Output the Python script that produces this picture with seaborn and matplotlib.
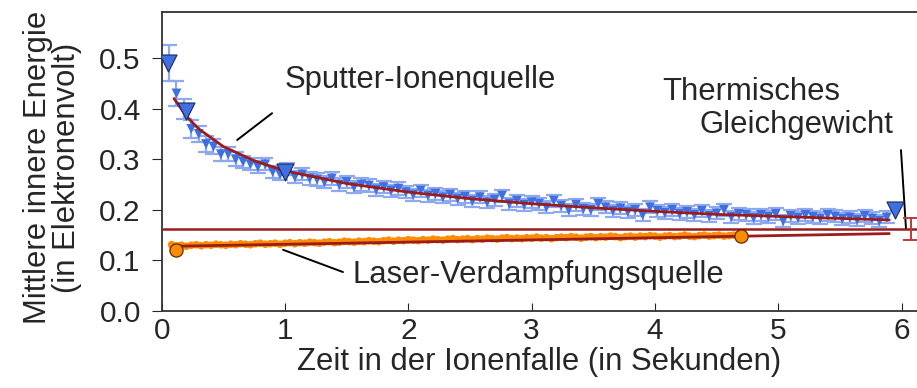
import numpy as np
import pandas as pd
import matplotlib
matplotlib.use('Agg')
import matplotlib.pyplot as plt
import seaborn as sns

# Datos: Sputter-Ionenquelle (blau)
sputter_x = [0.06, 0.12, 0.18, 0.24, 0.30, 0.36, 0.42, 0.48, 0.54, 0.60,
             0.66, 0.72, 0.78, 0.84, 0.90, 0.96, 1.02, 1.08, 1.14, 1.20,
             1.26, 1.32, 1.38, 1.44, 1.50, 1.56, 1.62, 1.68, 1.74, 1.80,
             1.86, 1.92, 1.98, 2.04, 2.10, 2.16, 2.22, 2.28, 2.34, 2.40,
             2.46, 2.52, 2.58, 2.64, 2.70, 2.76, 2.82, 2.88, 2.94, 3.00,
             3.06, 3.12, 3.18, 3.24, 3.30, 3.36, 3.42, 3.48, 3.54, 3.60,
             3.66, 3.72, 3.78, 3.84, 3.90, 3.96, 4.02, 4.08, 4.14, 4.20,
             4.26, 4.32, 4.38, 4.44, 4.50, 4.56, 4.62, 4.68, 4.74, 4.80,
             4.86, 4.92, 4.98, 5.04, 5.10, 5.16, 5.22, 5.28, 5.34, 5.40,
             5.46, 5.52, 5.58, 5.64, 5.70, 5.76, 5.82, 5.88]
sputter_y = [0.49, 0.43, 0.40, 0.36, 0.35, 0.33, 0.325, 0.31, 0.31, 0.30,
             0.295, 0.29, 0.285, 0.29, 0.275, 0.27, 0.28, 0.265, 0.27, 0.262,
             0.26, 0.255, 0.262, 0.25, 0.255, 0.245, 0.25, 0.248, 0.24, 0.245,
             0.238, 0.242, 0.235, 0.23, 0.238, 0.228, 0.232, 0.225, 0.23, 0.222,
             0.226, 0.218, 0.225, 0.215, 0.22, 0.228, 0.212, 0.218, 0.21, 0.215,
             0.212, 0.205, 0.218, 0.208, 0.20, 0.21, 0.202, 0.20, 0.212, 0.205,
             0.198, 0.203, 0.196, 0.20, 0.19, 0.205, 0.198, 0.194, 0.20, 0.192,
             0.196, 0.19, 0.198, 0.188, 0.193, 0.20, 0.186, 0.192, 0.19, 0.184,
             0.19, 0.186, 0.192, 0.178, 0.188, 0.184, 0.19, 0.186, 0.183, 0.19,
             0.187, 0.182, 0.185, 0.18, 0.188, 0.183, 0.178, 0.185]
sputter_err = [0.035, 0.025, 0.02, 0.018, 0.016, 0.015, 0.015, 0.014, 0.014, 0.014] + [0.012] * 88

# Hervorgehobene Punkte (große Dreiecke)
big_tri_x = [0.05, 0.2, 1.0, 5.95]
big_tri_y = [0.49, 0.395, 0.275, 0.2]

# Fit-Kurve Sputter
fit_s_x = [0.1, 0.2, 0.3, 0.5, 0.75, 1.0, 1.5, 2.0, 2.5, 3.0, 3.5, 4.0, 4.5, 5.0, 5.5, 5.9]
fit_s_y = [0.42, 0.385, 0.36, 0.325, 0.297, 0.277, 0.252, 0.235, 0.222, 0.212, 0.204, 0.197, 0.191, 0.187, 0.183, 0.18]

# Datos: Laser-Verdampfungsquelle (orange)
laser_x = [0.08, 0.12, 0.16, 0.20, 0.24, 0.28, 0.32, 0.36, 0.40, 0.44,
           0.48, 0.52, 0.56, 0.60, 0.64, 0.68, 0.72, 0.76, 0.80, 0.84,
           0.88, 0.92, 0.96, 1.00, 1.04, 1.08, 1.12, 1.16, 1.20, 1.24,
           1.28, 1.32, 1.36, 1.40, 1.44, 1.48, 1.52, 1.56, 1.60, 1.64,
           1.68, 1.72, 1.76, 1.80, 1.84, 1.88, 1.92, 1.96, 2.00, 2.04,
           2.08, 2.12, 2.16, 2.20, 2.24, 2.28, 2.32, 2.36, 2.40, 2.44,
           2.48, 2.52, 2.56, 2.60, 2.64, 2.68, 2.72, 2.76, 2.80, 2.84,
           2.88, 2.92, 2.96, 3.00, 3.04, 3.08, 3.12, 3.16, 3.20, 3.24,
           3.28, 3.32, 3.36, 3.40, 3.44, 3.48, 3.52, 3.56, 3.60, 3.64,
           3.68, 3.72, 3.76, 3.80, 3.84, 3.88, 3.92, 3.96, 4.00, 4.04,
           4.08, 4.12, 4.16, 4.20, 4.24, 4.28, 4.32, 4.36, 4.40, 4.44,
           4.48, 4.52, 4.56, 4.60, 4.64, 4.68, 4.72]
laser_y = [0.131, 0.129, 0.130, 0.128, 0.130, 0.131, 0.129, 0.131, 0.130, 0.132,
           0.131, 0.130, 0.132, 0.131, 0.133, 0.132, 0.131, 0.133, 0.134, 0.132,
           0.133, 0.134, 0.132, 0.134, 0.135, 0.133, 0.135, 0.134, 0.136, 0.135,
           0.134, 0.136, 0.137, 0.135, 0.136, 0.138, 0.137, 0.136, 0.138, 0.137,
           0.139, 0.138, 0.137, 0.139, 0.140, 0.138, 0.140, 0.139, 0.141, 0.140,
           0.139, 0.141, 0.140, 0.142, 0.141, 0.140, 0.142, 0.143, 0.141, 0.142,
           0.143, 0.141, 0.143, 0.142, 0.144, 0.143, 0.142, 0.144, 0.145, 0.143,
           0.144, 0.143, 0.145, 0.144, 0.146, 0.144, 0.145, 0.143, 0.145, 0.146,
           0.145, 0.147, 0.146, 0.144, 0.146, 0.147, 0.145, 0.147, 0.146, 0.148,
           0.147, 0.145, 0.147, 0.148, 0.146, 0.148, 0.147, 0.149, 0.148, 0.146,
           0.148, 0.149, 0.147, 0.148, 0.150, 0.148, 0.147, 0.149, 0.150, 0.148,
           0.149, 0.150, 0.148, 0.149, 0.150, 0.149, 0.148]
big_circ_x = [0.12, 4.7]
big_circ_y = [0.12, 0.148]

fit_l_x = [0.1, 5.9]
fit_l_y = [0.128, 0.153]

# Thermisches Gleichgewicht
eq_y = 0.162
eq_err_x = 6.08
eq_err = 0.022

blau = '#3f6fe0'
hellblau = '#8ea9ee'
dunkelrot = '#9b1c1c'
orange = '#ff8c00'

sns.set_style('ticks')
plt.rcParams['font.family'] = ['Liberation Sans', 'DejaVu Sans']

fig = plt.figure(figsize=(9.17, 3.88), dpi=100)
ax = fig.add_axes([161.7 / 917, 77 / 388, 1 - 161.7 / 917, 299 / 388])

# Sputter
ax.errorbar(sputter_x, sputter_y, yerr=sputter_err, fmt='none', ecolor=hellblau,
            elinewidth=1.6, capsize=6, capthick=1.6, zorder=2)
df_s = pd.DataFrame({'x': sputter_x, 'y': sputter_y})
sns.scatterplot(data=df_s, x='x', y='y', marker='v', s=50, color=blau, edgecolor='none', ax=ax, zorder=3)
sns.lineplot(x=fit_s_x, y=fit_s_y, color=dunkelrot, lw=2, ax=ax, zorder=4)
sns.scatterplot(x=big_tri_x, y=big_tri_y, marker='v', s=150, color=blau, edgecolor='#1a2a55',
                linewidth=0.8, ax=ax, zorder=5)

# Laser
df_l = pd.DataFrame({'x': laser_x, 'y': laser_y})
sns.scatterplot(data=df_l, x='x', y='y', marker='o', s=30, color=orange, edgecolor='none', ax=ax, zorder=3)
sns.lineplot(x=fit_l_x, y=fit_l_y, color=dunkelrot, lw=2, ax=ax, zorder=4)
sns.scatterplot(x=big_circ_x, y=big_circ_y, marker='o', s=90, color=orange, edgecolor='#5a2a00',
                linewidth=0.9, ax=ax, zorder=5)

# Gleichgewicht
ax.axhline(eq_y, color=dunkelrot, lw=1.8, zorder=4)
ax.errorbar([eq_err_x], [eq_y], yerr=eq_err, fmt='none', ecolor='#c0393b', elinewidth=1.4,
            capsize=6, capthick=1.4, zorder=4)

# Beschriftungen
fs = 22.3
ax.text(1.0, 0.456, 'Sputter-Ionenquelle', fontsize=fs, ha='left', va='center')
ax.plot([0.895, 0.612], [0.391, 0.338], color='black', lw=1.4)
ax.text(1.55, 0.071, 'Laser-Verdampfungsquelle', fontsize=fs, ha='left', va='center')
ax.plot([0.984, 1.47], [0.121, 0.077], color='black', lw=1.4)
ax.text(4.06, 0.433, 'Thermisches', fontsize=fs, ha='left', va='center')
ax.text(4.36, 0.368, 'Gleichgewicht', fontsize=fs, ha='left', va='center')
ax.plot([5.995, 6.036], [0.318, 0.162], color='black', lw=1.4)

ax.set_xlim(0, 6.125)
ax.set_ylim(0, 0.591)
ax.set_xticks([0, 1, 2, 3, 4, 5, 6])
ax.set_yticks([0.0, 0.1, 0.2, 0.3, 0.4, 0.5])
ax.set_yticklabels(['0.0', '0.1', '0.2', '0.3', '0.4', '0.5'])
ax.tick_params(axis='x', direction='in', labelsize=21.5, length=6, pad=4)
ax.tick_params(axis='y', direction='out', labelsize=21.5, length=7, pad=8)
ax.spines['right'].set_visible(False)
for s in ['left', 'bottom', 'top']:
    ax.spines[s].set_color('#333333')
    ax.spines[s].set_linewidth(1.3)
ax.set_xlabel('Zeit in der Ionenfalle (in Sekunden)', fontsize=fs, labelpad=2)
ax.set_ylabel('Mittlere innere Energie\n(in Elektronenvolt)', fontsize=fs, linespacing=0.95)
ax.yaxis.set_label_coords(-0.106, 0.48)

fig.savefig('out.png', dpi=100)
